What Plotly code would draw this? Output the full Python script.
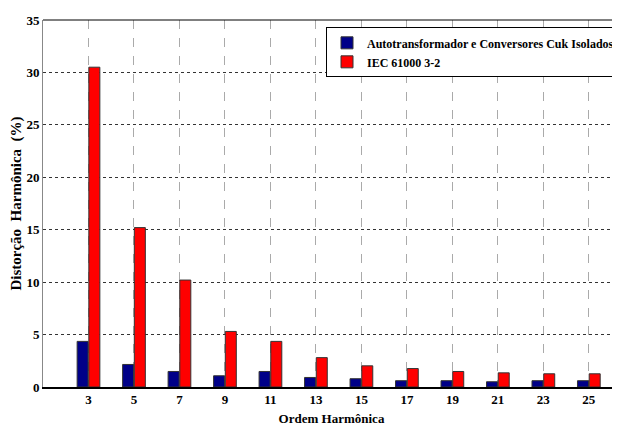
import plotly.graph_objects as go

harmonics = [3, 5, 7, 9, 11, 13, 15, 17, 19, 21, 23, 25]
cuk_values = [4.35, 2.15, 1.48, 1.07, 1.48, 0.91, 0.79, 0.6, 0.6, 0.5, 0.6, 0.6]
iec_values = [30.5, 15.2, 10.2, 5.3, 4.35, 2.8, 2.02, 1.76, 1.48, 1.35, 1.26, 1.26]
y_ticks = [0, 5, 10, 15, 20, 25, 30, 35]

font_family = "serif"

fig = go.Figure()
fig.add_trace(go.Bar(
    x=harmonics, y=cuk_values,
    name="<b>Autotransformador e Conversores Cuk Isolados</b>",
    marker=dict(color="#000088", line=dict(color="#333333", width=1)),
))
fig.add_trace(go.Bar(
    x=harmonics, y=iec_values,
    name="<b>IEC 61000 3-2</b>",
    marker=dict(color="#FF0000", line=dict(color="#333333", width=1)),
))

fig.update_layout(
    width=612, height=422,
    margin=dict(l=33, r=0, t=12, b=43),
    paper_bgcolor="white", plot_bgcolor="white",
    barmode="group", bargap=0.485, bargroupgap=0.06,
    font=dict(family=font_family, size=12, color="black"),
    legend=dict(
        x=1.0, y=0.98, xanchor="right", yanchor="top",
        bgcolor="white", bordercolor="black", borderwidth=1,
        font=dict(family=font_family, size=12, color="black"),
        itemwidth=30,
    ),
    xaxis=dict(
        range=[1, 26.37], tickvals=harmonics,
        ticktext=[f"<b>{h}</b>" for h in harmonics],
        showgrid=True, gridcolor="#aaaaaa", griddash="dash", gridwidth=1,
        showline=True, linecolor="black", linewidth=1.5,
        ticks="", zeroline=False,
        title=dict(text="<b>Ordem Harmônica</b>", standoff=8,
                   font=dict(family=font_family, size=13)),
        tickfont=dict(family=font_family, size=13),
    ),
    yaxis=dict(
        range=[0, 35], tickvals=y_ticks,
        ticktext=[f"<b>{v}</b>" for v in y_ticks],
        showgrid=True, gridcolor="#333333", griddash="dot", gridwidth=1,
        showline=True, linecolor="#888888", linewidth=1, mirror=False,
        ticks="", zeroline=False,
        title=dict(text="<b>Distorção  Harmônica  (%)</b>", standoff=8,
                   font=dict(family=font_family, size=15)),
        tickfont=dict(family=font_family, size=13),
    ),
)
# top border line
fig.add_shape(type="line", xref="paper", yref="paper", x0=0, x1=1, y0=1, y1=1,
              line=dict(color="black", width=1))

fig.write_html("out.html")
